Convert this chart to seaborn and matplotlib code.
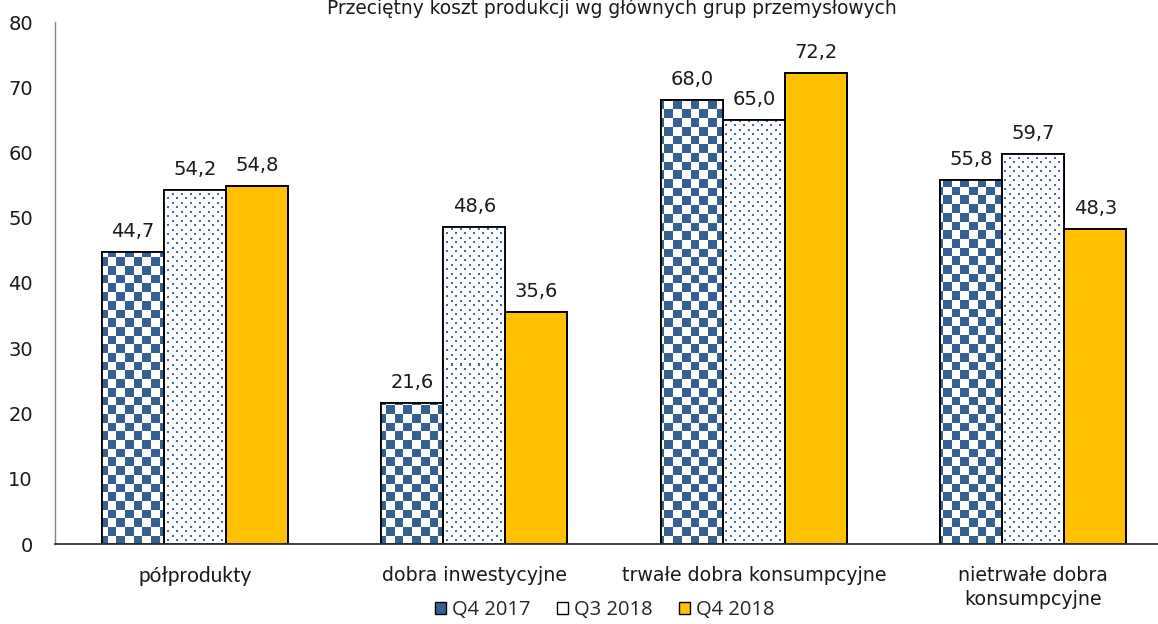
import numpy as np
import pandas as pd
import matplotlib
matplotlib.use("Agg")
import matplotlib.pyplot as plt
import seaborn as sns
from matplotlib.colors import to_rgb
from matplotlib.patches import Patch, Rectangle

# --- data -------------------------------------------------------------
categories = ["półprodukty", "dobra inwestycyjne", "trwałe dobra konsumpcyjne",
              "nietrwałe dobra\nkonsumpcyjne"]
series = ["Q4 2017", "Q3 2018", "Q4 2018"]
q4_2017 = [44.7, 21.6, 68.0, 55.8]
q3_2018 = [54.2, 48.6, 65.0, 59.7]
q4_2018 = [54.8, 35.6, 72.2, 48.3]
yticks = [0, 10, 20, 30, 40, 50, 60, 70, 80]
title = "Przeciętny koszt produkcji wg głównych grup przemysłowych"

BLUE = "#376092"
DOT = "#426BA3"
YELLOW = "#FFC000"

sns.set_theme(style="white")
plt.rcParams["font.family"] = ["DejaVu Sans"]

df = pd.DataFrame({
    "kategoria": categories * 3,
    "okres": np.repeat(series, len(categories)),
    "wartosc": q4_2017 + q3_2018 + q4_2018,
})

FW, FH = 1158, 624
fig = plt.figure(figsize=(FW / 100, FH / 100), dpi=100)
# plot area in pixels: x 55..1173 (runs past the right edge), y 22..544
L, R, T, B = 55, 1173, 22, 544
ax = fig.add_axes([L / FW, 1 - B / FH, (R - L) / FW, (B - T) / FH])

sns.barplot(data=df, x="kategoria", y="wartosc", hue="okres",
            order=categories, hue_order=series,
            palette=["white", "white", YELLOW], saturation=1,
            width=0.665, gap=0, edgecolor="black", linewidth=1.3,
            errorbar=None, legend=False, ax=ax)

# --- pattern fills (checkerboard and dotted) in screen pixels ---------
pw, ph = R - L, B - T
yy, xx = np.mgrid[0:ph, 0:pw]
cell = 8.7
checker = ((np.floor(xx / cell) + np.floor(yy / cell)) % 2) == 0
tex_check = np.ones((ph, pw, 3))
tex_check[checker] = to_rgb(BLUE)

ty, tx = yy % 9, xx % 9
dots = ((ty < 2) & (tx < 2)) | ((ty >= 4) & (ty < 6) & (tx >= 4) & (tx < 6))
tex_dots = np.ones((ph, pw, 3))
tex_dots[dots] = to_rgb(DOT)

for cont, tex in zip(ax.containers[:2], [tex_check, tex_dots]):
    for bar in cont:
        im = ax.imshow(tex, extent=(0, 1, 0, 1), transform=ax.transAxes,
                       interpolation="nearest", aspect="auto", origin="upper",
                       zorder=1.5)
        im.set_clip_path(bar)

for cont in ax.containers:
    for bar in cont:
        ax.add_patch(Rectangle(bar.get_xy(), bar.get_width(), bar.get_height(),
                               fill=False, edgecolor="black", linewidth=1.3,
                               zorder=2))
    vals = [b.get_height() for b in cont]
    ax.bar_label(cont, labels=[f"{v:.1f}".replace(".", ",") for v in vals],
                 padding=8, fontsize=14, color="#1a1a1a")

ax.set_xlim(-0.5, 3.5)
ax.set_ylim(0, 80)
ax.set_yticks(yticks)
ax.set_xlabel("")
ax.set_ylabel("")
ax.tick_params(axis="y", length=0, pad=16, labelsize=14, labelcolor="#1a1a1a")
ax.tick_params(axis="x", length=0, pad=16, labelsize=13.7, labelcolor="#1a1a1a")

labels = ax.get_xticklabels()
labels[0].set_fontfamily("Lato")
labels[0].set_fontsize(15)
for lab in labels:
    lab.set_linespacing(1.3)

for s in ("top", "right"):
    ax.spines[s].set_visible(False)
ax.spines["left"].set_color("#868686")
ax.spines["left"].set_linewidth(1.0)
ax.spines["bottom"].set_color("#333333")
ax.spines["bottom"].set_linewidth(1.3)

fig.text(612 / FW, 1 - 14 / FH, title, ha="center", va="baseline",
         fontsize=13.4, color="#1a1a1a")

handles = [Patch(facecolor=BLUE, edgecolor="black", linewidth=1.0),
           Patch(facecolor="white", edgecolor="black", linewidth=1.0),
           Patch(facecolor=YELLOW, edgecolor="black", linewidth=1.0)]
fig.legend(handles, series, loc="center", bbox_to_anchor=(605 / FW, 1 - 610 / FH),
           ncol=3, frameon=False, handlelength=0.55, handleheight=0.55,
           handletextpad=0.3, columnspacing=1.3,
           prop={"family": "Open Sans", "size": 14.5})

fig.savefig("out.png", dpi=100)
